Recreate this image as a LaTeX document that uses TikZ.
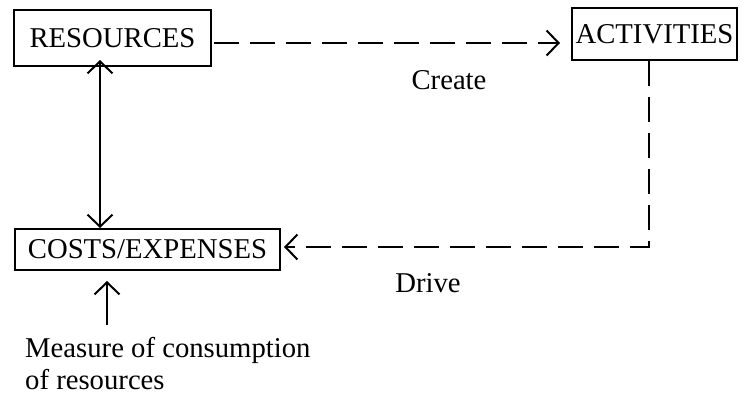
\documentclass[tikz,border=0pt]{standalone}
\usepackage{fontspec}
\setmainfont{Liberation Serif}
\usepackage{tikz}
\usetikzlibrary{calc, arrows.meta}
\tikzset{>={Straight Barb[length=12pt, width=25pt]}}

\begin{document}
\begin{tikzpicture}[
    x = 1pt, y = -1pt,
    d0/.style = {line width = 2pt},
    bx/.style = {d0, draw, inner sep = 0pt, font = \fontsize{28.7}{32}\selectfont},
    lbl/.style = {inner sep = 0pt, font = \fontsize{28.7}{32}\selectfont},
    dsh/.style = {d0, dash pattern = on 25pt off 11pt}
]
\useasboundingbox (0,0) rectangle (744,399);

\node[bx, minimum width = 197pt, minimum height = 56pt] (res) at (112.5, 38) {RESOURCES};
\node[bx, minimum width = 165pt, minimum height = 52pt] (act) at (654.5, 34) {ACTIVITIES};
\node[bx, minimum width = 265pt, minimum height = 41pt] (cost) at (147.5, 249.5) {COSTS/EXPENSES};

\node[lbl] (create) at (449, 80) {Create};
\node[lbl] (drive) at (428, 283) {Drive};
\node[lbl, align = left, anchor = north west] (meas) at (25, 337)
    {Measure of consumption\\of resources};

\coordinate (mtail) at (107, 325);

% connectors
\draw[dsh, ->, shorten < = 2pt, shorten > = 11pt]
    ([yshift = -5pt]res.east) -- ([yshift = -5pt]res.east -| act.west);
\draw[d0, <->, shorten < = -7pt] (res.south -| 100, 0) -- (cost.north -| 100, 0);
\draw[dsh, ->, shorten > = 3pt]
    ([xshift = -5.5pt]act.south) |- ([yshift = 2.5pt]cost.east);
\draw[d0, ->, shorten > = 10pt] (mtail) -- (mtail |- cost.south);

\end{tikzpicture}
\end{document}
